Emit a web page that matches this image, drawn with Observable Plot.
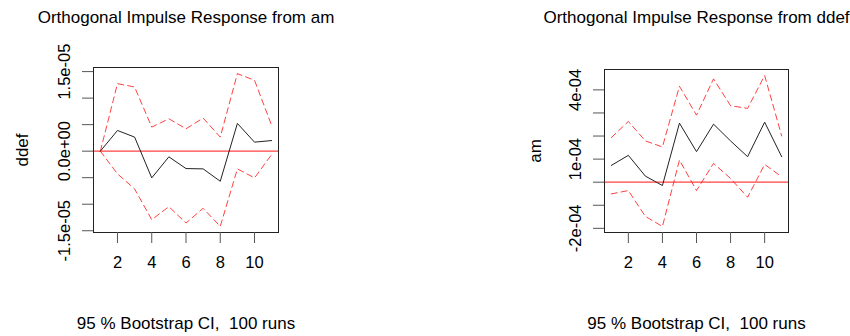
<!DOCTYPE html>
<html><head><meta charset="utf-8">
<script src="https://cdn.jsdelivr.net/npm/d3@7"></script>
<script src="https://cdn.jsdelivr.net/npm/@observablehq/plot@0.6"></script>
<style>
body{margin:0;background:#fff;}
#wrap{display:flex;width:850px;height:336px;}
#wrap svg{display:block;flex:none}
</style></head><body><div id="wrap"></div>
<script>
const steps = [1, 2, 3, 4, 5, 6, 7, 8, 9, 10, 11];
const xTicks = [2, 4, 6, 8, 10];
const footerText = "95 % Bootstrap CI,  100 runs";

// Panel 1: impulse from am, response ddef
const titleAm = "Orthogonal Impulse Response from am";
const ylabAm = "ddef";
const irfAm = [0, 3.9e-6, 2.65e-6, -5.04e-6, -1.07e-6, -3.28e-6, -3.34e-6, -5.67e-6, 5.23e-6, 1.70e-6, 2.00e-6];
const upperAm = [0, 1.273e-5, 1.21e-5, 4.54e-6, 6.11e-6, 4.22e-6, 6.24e-6, 2.65e-6, 1.462e-5, 1.336e-5, 4.85e-6];
const lowerAm = [0, -4.28e-6, -7.12e-6, -1.292e-5, -1.046e-5, -1.355e-5, -1.077e-5, -1.418e-5, -3.34e-6, -5.04e-6, -6.3e-7];
const yTicksAm = [-1.5e-5, -1e-5, -5e-6, 0, 5e-6, 1e-5, 1.5e-5];
const yLabelValsAm = [-1.5e-5, 0, 1.5e-5];
const yLabelsAm = ["-1.5e-05", "0.0e+00", "1.5e-05"];

// Panel 2: impulse from ddef, response am
const titleDdef = "Orthogonal Impulse Response from ddef";
const ylabDdef = "am";
const irfDdef = [7.27e-5, 1.163e-4, 2.62e-5, -1.45e-5, 2.558e-4, 1.323e-4, 2.515e-4, 1.788e-4, 1.105e-4, 2.602e-4, 1.105e-4];
const upperDdef = [1.933e-4, 2.631e-4, 1.788e-4, 1.526e-4, 4.157e-4, 2.907e-4, 4.477e-4, 3.314e-4, 3.198e-4, 4.622e-4, 2.006e-4];
const lowerDdef = [-5.09e-5, -3.63e-5, -1.483e-4, -1.919e-4, 9.59e-5, -3.63e-5, 8.14e-5, 1.60e-5, -6.54e-5, 7.70e-5, 2.33e-5];
const yTicksDdef = [-2e-4, -1e-4, 0, 1e-4, 2e-4, 3e-4, 4e-4];
const yLabelValsDdef = [-2e-4, 1e-4, 4e-4];
const yLabelsDdef = ["-2e-04", "1e-04", "4e-04"];

const font = "'Liberation Sans', Arial, Helvetica, sans-serif";

function panel(o) {
  const all = o.irf.concat(o.upper, o.lower);
  const lo = d3.min(all), hi = d3.max(all), pad = (hi - lo) * 0.04;
  const xlo = d3.min(steps), xhi = d3.max(steps), xpad = (xhi - xlo) * 0.04;
  const rows = steps.map((s, i) => ({step: s, irf: o.irf[i], upper: o.upper[i], lower: o.lower[i]}));
  const labelRows = o.yLabelVals.map((v, i) => ({v, t: o.yLabels[i]}));
  return Plot.plot({
    width: 425, height: 336,
    marginLeft: o.ml, marginRight: o.mr, marginTop: o.mt, marginBottom: o.mb,
    style: {fontFamily: font, fontSize: "16.5px", color: "#000", background: "#fff", overflow: "visible"},
    x: {domain: [xlo - xpad, xhi + xpad]},
    y: {domain: [lo - pad, hi + pad]},
    marks: [
      Plot.ruleY([0], {stroke: "#ff0000", strokeOpacity: 0.75, strokeWidth: 1.2}),
      Plot.line(rows, {x: "step", y: "upper", stroke: "#ff2020", strokeOpacity: 0.85, strokeDasharray: "6,4", strokeWidth: 1}),
      Plot.line(rows, {x: "step", y: "lower", stroke: "#ff2020", strokeOpacity: 0.85, strokeDasharray: "6,4", strokeWidth: 1}),
      Plot.line(rows, {x: "step", y: "irf", stroke: "#222", strokeWidth: 1}),
      Plot.frame({stroke: "#222"}),
      Plot.axisX(xTicks, {tickSize: 11, tickPadding: 13, fontSize: 16.5, label: null, stroke: "#555"}),
      Plot.axisY(o.yTicks, {tickSize: 11, tickFormat: () => "", label: null, stroke: "#555"}),
      Plot.text(labelRows, {y: "v", text: "t", frameAnchor: "left", dx: -29, rotate: -90, textAnchor: "middle", lineAnchor: "middle", fontSize: 16.5, fill: "#000"}),
      Plot.text([o.ylab], {text: d => d, frameAnchor: "left", dx: o.ylabDx, rotate: -90, textAnchor: "middle", lineAnchor: "middle", fontSize: 17, fill: "#000"}),
      Plot.text([o.title], {text: d => d, frameAnchor: "top", dy: o.titleDy, lineAnchor: "middle", fontSize: 17, fill: "#000"}),
      Plot.text([footerText], {text: d => d, frameAnchor: "bottom", dy: 91, lineAnchor: "middle", fontSize: 17, fill: "#000"})
    ]
  });
}

const wrap = document.getElementById("wrap");
wrap.appendChild(panel({
  title: titleAm, ylab: ylabAm, irf: irfAm, upper: upperAm, lower: lowerAm,
  yTicks: yTicksAm, yLabelVals: yLabelValsAm, yLabels: yLabelsAm,
  ml: 93, mr: 147, mt: 67, mb: 104, ylabDx: -71, titleDy: -50
}));
wrap.appendChild(panel({
  title: titleDdef, ylab: ylabDdef, irf: irfDdef, upper: upperDdef, lower: lowerDdef,
  yTicks: yTicksDdef, yLabelVals: yLabelValsDdef, yLabels: yLabelsDdef,
  ml: 179, mr: 62, mt: 69, mb: 104, ylabDx: -69, titleDy: -52
}));
</script>
</body></html>
